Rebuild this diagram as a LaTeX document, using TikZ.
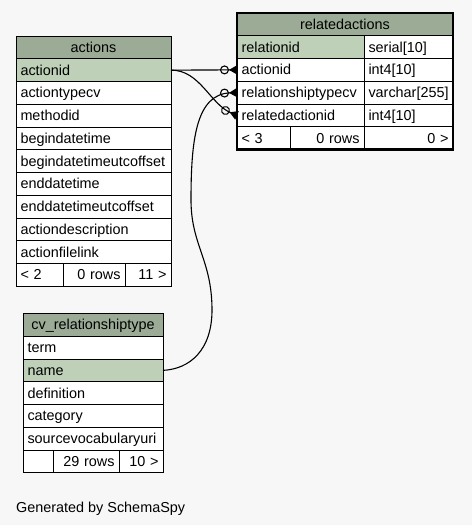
\documentclass[tikz,border=0pt]{standalone}
\usepackage{fontspec}
\setmainfont{Liberation Sans}
\usetikzlibrary{positioning, arrows.meta}
\definecolor{headgreen}{HTML}{9BAB96}
\definecolor{keygreen}{HTML}{BED1B8}
\definecolor{canvas}{HTML}{F7F7F7}

\begin{document}
\begin{tikzpicture}[x=1pt, y=-1pt,
		% Define styles for the table cells
		cell/.style={
			draw, line width=1pt, fill=white, font=\fontsize{14.4}{17}\selectfont,
			minimum height=22.75pt, inner xsep=4.5pt, inner ysep=0pt, outer sep=0pt,
			text height=12pt, text depth=2pt, align=left
		},
		headcell/.style={cell, fill=headgreen, align=center},
		keycell/.style={cell, fill=keygreen},
		footcell/.style={cell, align=right},
		fk/.style={
			line width=1.1pt, -{Circle[open, length=9pt] Triangle[reversed, length=8pt, width=9pt]}
		}
		]
		
		\fill[canvas] (0,0) rectangle (472,525);
		\useasboundingbox (0,0) rectangle (472,525);
		
		% Table actions
		\node[headcell, text width=146pt, anchor=north west] (ahead) at (16,36) {actions};
		\node[keycell, text width=146pt, below=0pt of ahead] (a1) {actionid};
		\node[cell, text width=146pt, below=0pt of a1] (a2) {actiontypecv};
		\node[cell, text width=146pt, below=0pt of a2] (a3) {methodid};
		\node[cell, text width=146pt, below=0pt of a3] (a4) {begindatetime};
		\node[cell, text width=146pt, below=0pt of a4] (a5) {begindatetimeutcoffset};
		\node[cell, text width=146pt, below=0pt of a5] (a6) {enddatetime};
		\node[cell, text width=146pt, below=0pt of a6] (a7) {enddatetimeutcoffset};
		\node[cell, text width=146pt, below=0pt of a7] (a8) {actiondescription};
		\node[cell, text width=146pt, below=0pt of a8] (a9) {actionfilelink};
		\node[cell, text width=38pt, anchor=north west] (af1) at (a9.south west) {< 2};
		\node[footcell, text width=53pt, right=0pt of af1] (af2) {0 rows};
		\node[footcell, text width=37pt, right=0pt of af2] (af3) {11 >};
		
		% Table relatedactions
		\node[headcell, text width=207pt, anchor=north west] (rhead) at (237,13) {relatedactions};
		\node[keycell, text width=118pt, anchor=north west] (r1) at (rhead.south west) {relationid};
		\node[cell, text width=80pt, right=0pt of r1] (r1t) {serial[10]};
		\node[cell, text width=118pt, below=0pt of r1] (r2) {actionid};
		\node[cell, text width=80pt, right=0pt of r2] (r2t) {int4[10]};
		\node[cell, text width=118pt, below=0pt of r2] (r3) {relationshiptypecv};
		\node[cell, text width=80pt, right=0pt of r3] (r3t) {varchar[255]};
		\node[cell, text width=118pt, below=0pt of r3] (r4) {relatedactionid};
		\node[cell, text width=80pt, right=0pt of r4] (r4t) {int4[10]};
		\node[cell, text width=44pt, anchor=north west] (rf1) at (r4.south west) {< 3};
		\node[footcell, text width=65pt, right=0pt of rf1] (rf2) {0 rows};
		\node[footcell, text width=80pt, right=0pt of rf2] (rf3) {0 >};
		\draw[line width=2.8pt] (rhead.north west) rectangle (rf3.south east);
		
		% Table cv_relationshiptype
		\node[headcell, text width=131pt, anchor=north west] (chead) at (23,313.5) {cv\_relationshiptype};
		\node[cell, text width=131pt, below=0pt of chead] (c1) {term};
		\node[keycell, text width=131pt, below=0pt of c1] (c2) {name};
		\node[cell, text width=131pt, below=0pt of c2] (c3) {definition};
		\node[cell, text width=131pt, below=0pt of c3] (c4) {category};
		\node[cell, text width=131pt, below=0pt of c4] (c5) {sourcevocabularyuri};
		\node[cell, text width=21pt, anchor=north west] (cf1) at (c5.south west) {};
		\node[footcell, text width=57pt, right=0pt of cf1] (cf2) {29 rows};
		\node[footcell, text width=35pt, right=0pt of cf2] (cf3) {10 >};
		
		% Foreign keys
		\draw[fk] (a1.east) -- (r2.west);
		\draw[fk] (a1.east) .. controls (200,70) and (210,104) .. (r4.west);
		\draw[fk] (c2.east) .. controls (190,369) and (212,350) .. (212,310)
			.. controls (212,260) and (191,245) .. (191,200)
			.. controls (191,140) and (196,94) .. (r3.west);
		
		\node[font=\fontsize{14.4}{17}\selectfont, inner sep=0pt, anchor=base west] (gen) at (16,512.3) {Generated by SchemaSpy};
		
	\end{tikzpicture}
\end{document}
